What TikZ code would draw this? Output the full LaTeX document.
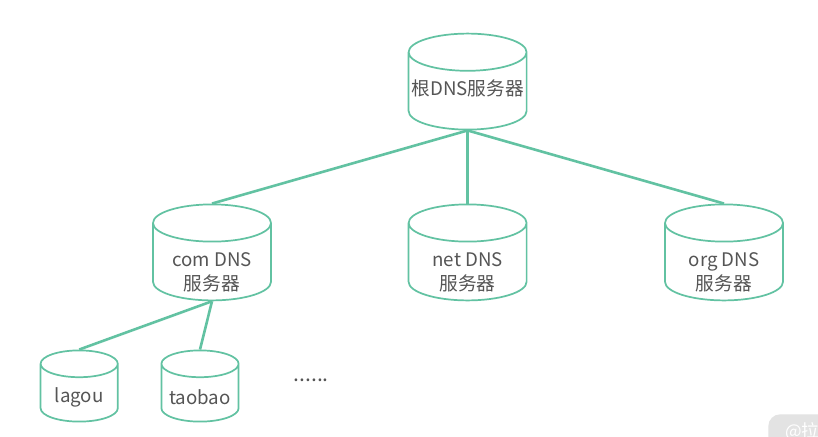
\documentclass[tikz,border=0pt]{standalone}
\usepackage{fontspec}
\setmainfont{Noto Sans CJK SC}
\usetikzlibrary{shapes.geometric}
\definecolor{dnsgreen}{HTML}{62C2A2}
\definecolor{dnstext}{HTML}{555555}
\newcommand{\bigfill}{\phantom{\rule{1.5cm}{0.97cm}}}
\newcommand{\smallfill}{\phantom{\rule{1cm}{0.75cm}}}
\tikzset{
  bigdb/.style={cylinder, shape border rotate=90, draw=dnsgreen, line width=0.043cm, aspect=0.62,
    anchor=shape center, minimum width=2.95cm, minimum height=2.4cm, inner sep=0pt},
  smalldb/.style={cylinder, shape border rotate=90, draw=dnsgreen, line width=0.043cm, aspect=0.67,
    anchor=shape center, minimum width=1.93cm, minimum height=1.78cm, inner sep=0pt},
  dbtext/.style={align=center, text=dnstext, font=\fontsize{13.3pt}{17pt}\selectfont},
  link/.style={draw=dnsgreen, line width=0.065cm}
}
\begin{document}
\begin{tikzpicture}
% Keep the page at the size of the reference
\useasboundingbox (0, 0) rectangle (20.45, 10.9);
\fill[white] (0, 0) rectangle (20.45, 10.9);

% Root server
\node[bigdb] (root) at (11.69, 8.86) {\bigfill};
\node[dbtext] (roottext) at (11.69, 8.70) {根DNS服务器};

% Top level servers
\node[bigdb] (com) at (5.30, 4.59) {\bigfill};
\node[dbtext] (comtext) at (5.30, 4.10) {com DNS\\服务器};
\node[bigdb] (net) at (11.69, 4.59) {\bigfill};
\node[dbtext] (nettext) at (11.69, 4.10) {net DNS\\服务器};
\node[bigdb] (org) at (18.10, 4.59) {\bigfill};
\node[dbtext] (orgtext) at (18.10, 4.10) {org DNS\\服务器};

% Second level servers
\node[smalldb] (lagou) at (1.98, 1.25) {\smallfill};
\node[dbtext] (lagoutext) at (1.98, 0.97) {lagou};
\node[smalldb] (taobao) at (5.00, 1.25) {\smallfill};
\node[dbtext] (taobaotext) at (5.00, 0.97) {taobao};
\node[text=dnstext, font=\fontsize{15pt}{17pt}\selectfont] (more) at (7.78, 1.38) {......};

% Links
\draw[link] (root.bottom) -- (com.top);
\draw[link] (root.bottom) -- (net.top);
\draw[link] (root.bottom) -- (org.top);
\draw[link] (com.bottom) -- (lagou.top);
\draw[link] (com.bottom) -- (taobao.top);

% Badge in the corner
\node[fill=black!11, rounded corners=0.3cm, text=white, anchor=north west, inner xsep=0.42cm, inner ysep=0.22cm, font=\fontsize{12.5pt}{15pt}\selectfont] (badge) at (19.2, 0.55) {@拉};
\end{tikzpicture}
\end{document}
